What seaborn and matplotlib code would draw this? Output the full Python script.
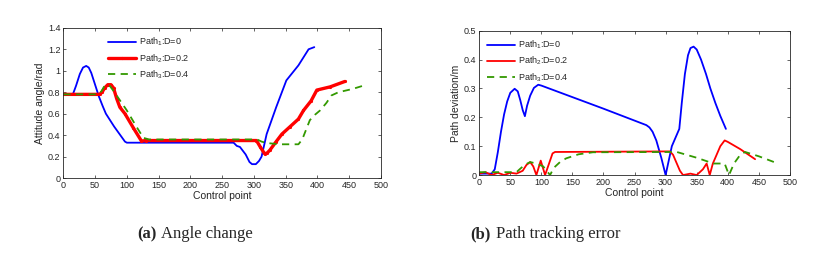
import matplotlib
matplotlib.use("Agg")
import matplotlib.pyplot as plt
import seaborn as sns

# (a) attitude angle
a1_x = [0, 15, 20, 26, 31, 36, 40, 44, 50, 56, 62, 67, 80, 97, 100, 268, 273, 278, 287, 293, 297, 303, 308, 312, 320, 335, 351, 370, 386, 395]
a1_y = [0.78, 0.78, 0.86, 0.97, 1.03, 1.045, 1.03, 0.98, 0.87, 0.76, 0.67, 0.60, 0.48, 0.34, 0.33, 0.33, 0.30, 0.29, 0.22, 0.15, 0.13, 0.13, 0.16, 0.20, 0.41, 0.66, 0.91, 1.05, 1.20, 1.22]
a2_x = [0, 57, 61, 65, 70, 75, 79, 84, 89, 97, 110, 123, 130, 304, 310, 317, 321, 325, 335, 344, 357, 370, 378, 390, 399, 420, 443]
a2_y = [0.78, 0.78, 0.80, 0.84, 0.87, 0.87, 0.84, 0.74, 0.66, 0.60, 0.47, 0.345, 0.35, 0.35, 0.29, 0.225, 0.235, 0.26, 0.34, 0.41, 0.48, 0.55, 0.63, 0.72, 0.82, 0.85, 0.90]
a3_x = [0, 55, 60, 64, 68, 73, 78, 85, 100, 115, 126, 135, 305, 312, 320, 340, 370, 376, 382, 388, 396, 404, 414, 422, 433, 455, 477]
a3_y = [0.78, 0.78, 0.81, 0.85, 0.87, 0.86, 0.82, 0.76, 0.63, 0.48, 0.375, 0.36, 0.36, 0.34, 0.327, 0.315, 0.315, 0.36, 0.45, 0.54, 0.59, 0.63, 0.70, 0.77, 0.80, 0.83, 0.87]

# (b) path deviation
b1_x = [0, 20, 25, 30, 35, 40, 45, 50, 57, 62, 66, 70, 73.5, 77, 82, 88, 95, 100, 150, 200, 269, 274, 279, 285, 293, 300, 305, 310, 318, 322, 326, 331, 336, 340, 345, 350, 357, 365, 372, 380, 388, 397]
b1_y = [0.005, 0.005, 0.02, 0.08, 0.15, 0.21, 0.255, 0.285, 0.299, 0.29, 0.26, 0.225, 0.204, 0.24, 0.275, 0.302, 0.313, 0.31, 0.27, 0.23, 0.173, 0.165, 0.15, 0.12, 0.06, 0.0, 0.05, 0.10, 0.14, 0.16, 0.25, 0.35, 0.415, 0.44, 0.445, 0.435, 0.40, 0.35, 0.30, 0.25, 0.205, 0.16]
b2_x = [0, 10, 20, 30, 40, 50, 60, 70, 76, 82, 87, 92, 99, 106, 114, 118, 122, 307, 312, 318, 323, 328, 340, 350, 360, 366, 371, 376, 382, 388, 395, 400, 420, 444]
b2_y = [0.005, 0.01, 0.0, 0.008, 0.0, 0.008, 0.005, 0.015, 0.035, 0.045, 0.03, 0.0, 0.05, 0.0, 0.05, 0.075, 0.08, 0.082, 0.07, 0.04, 0.015, 0.0, 0.005, 0.0, 0.02, 0.04, 0.0, 0.04, 0.07, 0.1, 0.12, 0.115, 0.09, 0.055]
b3_x = [0, 20, 40, 60, 65, 73, 82, 92, 103, 114, 120, 130, 140, 160, 183, 318, 350, 377, 395, 402, 410, 420, 428, 450, 477]
b3_y = [0.01, 0.01, 0.01, 0.01, 0.02, 0.035, 0.045, 0.04, 0.03, 0.0, 0.025, 0.045, 0.058, 0.072, 0.079, 0.08, 0.06, 0.04, 0.04, 0.0, 0.04, 0.07, 0.08, 0.065, 0.043]

labels = ["Path$_1$:D=0", "Path$_2$:D=0.2", "Path$_3$:D=0.4"]

sns.set_style("ticks")
plt.rcParams["font.family"] = ["Liberation Sans", "DejaVu Sans"]
plt.rcParams["mathtext.fontset"] = "custom"
plt.rcParams["mathtext.rm"] = "Liberation Sans"
plt.rcParams["mathtext.it"] = "Liberation Sans"
plt.rcParams["xtick.direction"] = "in"
plt.rcParams["ytick.direction"] = "in"
plt.rcParams["xtick.top"] = True
plt.rcParams["ytick.right"] = True

fig = plt.figure(figsize=(8.15, 2.77), dpi=100)
ax1 = fig.add_axes([0.0777, 0.357, 0.3898, 0.5426])
ax2 = fig.add_axes([0.588, 0.368, 0.3812, 0.521])


def draw(ax, series, red_kw, anchor):
    (x1, y1), (x2, y2), (x3, y3) = series
    sns.lineplot(x=x1, y=y1, ax=ax, color="#0000ff", linewidth=1.3, label=labels[0])
    sns.lineplot(x=x2, y=y2, ax=ax, color="#ff0000", label=labels[1], **red_kw)
    sns.lineplot(x=x3, y=y3, ax=ax, color="#339900", linewidth=1.3, linestyle=(0, (4, 3)), label=labels[2])
    ax.set_xlim(0, 500)
    ax.set_xticks(range(0, 501, 50))
    ax.set_xlabel("Control point", fontsize=7.5, labelpad=1)
    ax.tick_params(labelsize=6.5, length=2.5, width=0.5, pad=2)
    for s in ax.spines.values():
        s.set_linewidth(0.6)
    ax.legend(loc="upper left", frameon=False, fontsize=6.5, handlelength=3.1,
              handletextpad=0.3, labelspacing=0.4, bbox_to_anchor=anchor)


draw(ax1, [(a1_x, a1_y), (a2_x, a2_y), (a3_x, a3_y)],
     dict(linewidth=2.4, marker=".", markersize=3, markeredgecolor="#ff0000"), (0.115, 1.0))
ax1.set_ylim(0, 1.4)
ax1.set_yticks([0, 0.2, 0.4, 0.6, 0.8, 1.0, 1.2, 1.4])
ax1.set_yticklabels(["0", "0.2", "0.4", "0.6", "0.8", "1", "1.2", "1.4"])
ax1.set_ylabel("Attitude angle/rad", fontsize=7.5, labelpad=2)

draw(ax2, [(b1_x, b1_y), (b2_x, b2_y), (b3_x, b3_y)], dict(linewidth=1.3), (0.0, 1.0))
ax2.set_ylim(0, 0.5)
ax2.set_yticks([0, 0.1, 0.2, 0.3, 0.4, 0.5])
ax2.set_yticklabels(["0", "0.1", "0.2", "0.3", "0.4", "0.5"])
ax2.set_ylabel("Path deviation/m", fontsize=7.5, labelpad=2)

serif = ["Liberation Serif", "DejaVu Serif"]
fig.text(137 / 815, 1 - 234 / 277, "(a)", family=serif, fontsize=12, weight="bold", va="center")
fig.text(161 / 815, 1 - 234 / 277, "Angle change", family=serif, fontsize=12, va="center")
fig.text(470 / 815, 1 - 234 / 277, "(b)", family=serif, fontsize=12, weight="bold", va="center")
fig.text(496 / 815, 1 - 234 / 277, "Path tracking error", family=serif, fontsize=12, va="center")

fig.savefig("out.png", dpi=100)
